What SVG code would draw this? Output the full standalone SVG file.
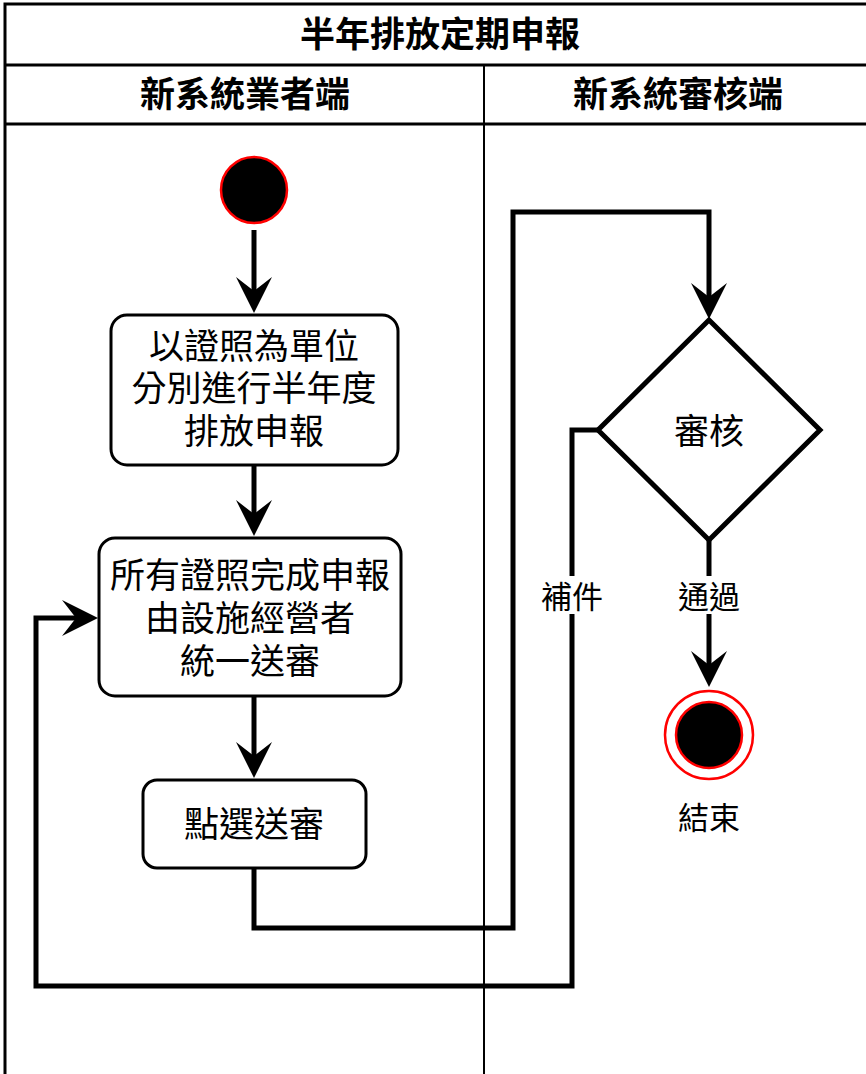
<svg xmlns="http://www.w3.org/2000/svg" width="866" height="1074" viewBox="0 0 866 1074">
<style>
text{font-family:"Noto Sans CJK TC","Noto Sans CJK SC",sans-serif;fill:#000;text-anchor:middle;dominant-baseline:central}
.t{font-size:35px;font-weight:bold}
.l{font-size:35px;font-weight:bold}
.n{font-size:35px}
.s{font-size:31px}
.box{fill:#fff;stroke:#000;stroke-width:3}
.c{fill:none;stroke:#000;stroke-width:5}
</style>
<defs>
<marker id="ah" markerUnits="userSpaceOnUse" viewBox="0 0 36 36" markerWidth="36" markerHeight="36" refX="14" refY="18" orient="auto">
<path d="M0,0 L36,18 L0,36 L14,18 Z" fill="#000"/>
</marker>
</defs>
<rect width="866" height="1074" fill="#fff"/>
<g id="pool">
<rect x="5" y="4" width="870" height="1080" fill="none" stroke="#000" stroke-width="3"/>
<line x1="5" y1="65" x2="875" y2="65" stroke="#000" stroke-width="3"/>
<line x1="5" y1="124" x2="875" y2="124" stroke="#000" stroke-width="3"/>
<line x1="484" y1="65" x2="484" y2="1080" stroke="#000" stroke-width="2"/>
<text class="t" x="440" y="31">半年排放定期申報</text>
<text class="l" x="245" y="91">新系統業者端</text>
<text class="l" x="678" y="91">新系統審核端</text>
</g>
<g id="connectors">
<path class="c" d="M254,230 L254,291" marker-end="url(#ah)"/>
<path class="c" d="M254,465 L254,514" marker-end="url(#ah)"/>
<path class="c" d="M254,696 L254,756" marker-end="url(#ah)"/>
<path class="c" d="M254,868 L254,928 L513,928 L513,212 L709,212 L709,297" marker-end="url(#ah)"/>
<path class="c" d="M598,430 L572,430 L572,986 L36,986 L36,618 L76,618" marker-end="url(#ah)"/>
<path class="c" d="M709,540 L709,665" marker-end="url(#ah)"/>
<rect x="538" y="576" width="68" height="38" fill="#fff"/>
<text class="s" x="572" y="594">補件</text>
<rect x="675" y="576" width="68" height="38" fill="#fff"/>
<text class="s" x="709" y="594">通過</text>
</g>
<g id="start">
<circle cx="254" cy="190" r="33" fill="#000" stroke="#f00" stroke-width="2.5"/>
</g>
<g id="box1">
<rect class="box" x="111" y="315" width="287" height="150" rx="16"/>
<text class="n" x="254" y="343">以證照為單位</text>
<text class="n" x="254" y="385">分別進行半年度</text>
<text class="n" x="254" y="428">排放申報</text>
</g>
<g id="box2">
<rect class="box" x="99" y="538" width="302" height="158" rx="16"/>
<text class="n" x="250" y="572">所有證照完成申報</text>
<text class="n" x="250" y="615">由設施經營者</text>
<text class="n" x="250" y="658">統一送審</text>
</g>
<g id="box3">
<rect class="box" x="143" y="780" width="223" height="88" rx="14"/>
<text class="n" x="254" y="821">點選送審</text>
</g>
<g id="decision">
<polygon points="709,320 820,430 709,540 598,430" fill="#fff" stroke="#000" stroke-width="5"/>
<text class="n" x="709" y="428">審核</text>
</g>
<g id="end">
<circle cx="709" cy="735" r="44" fill="#fff" stroke="#f00" stroke-width="2.5"/>
<circle cx="709" cy="735" r="33" fill="#000" stroke="#f00" stroke-width="2.5"/>
<text class="s" x="709" y="815">結束</text>
</g>
</svg>
